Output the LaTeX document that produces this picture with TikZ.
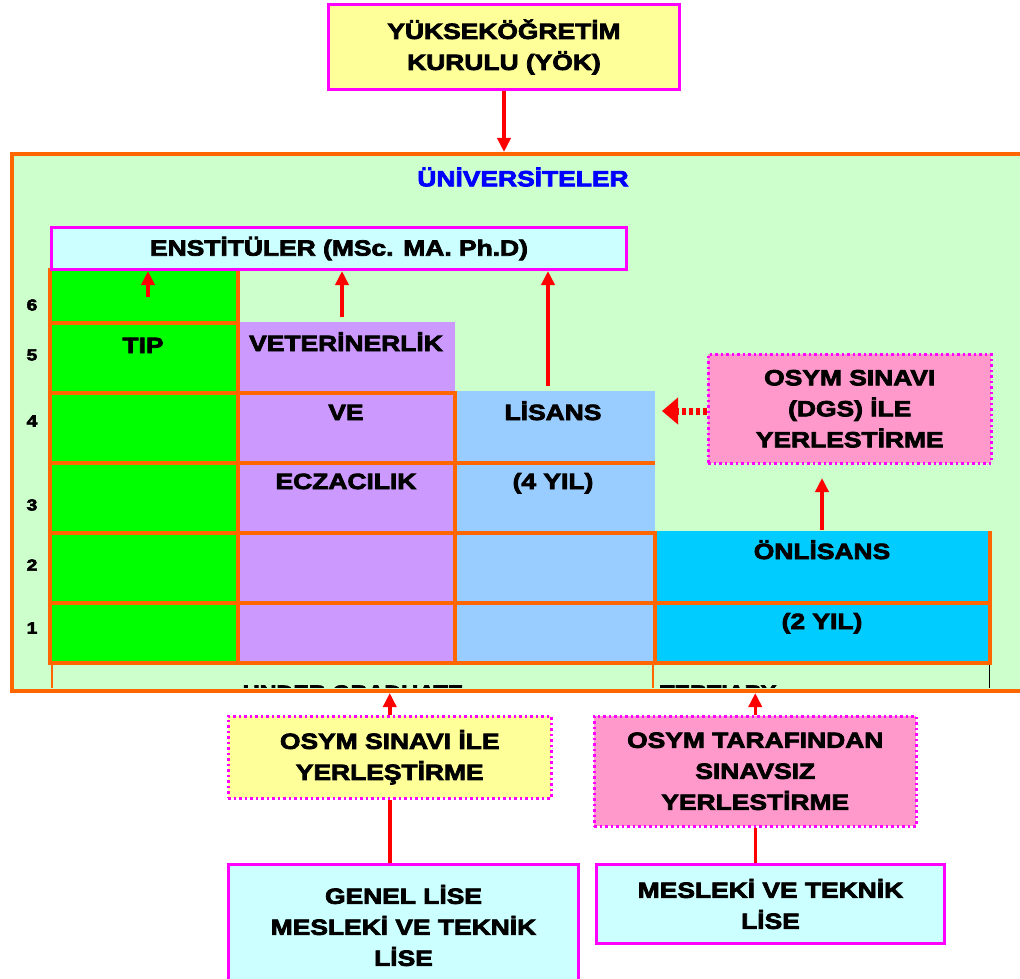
\documentclass[tikz,border=0pt]{standalone}
\usepackage{fontspec}
\setmainfont{Liberation Sans}[BoldFeatures={FakeStretch=1.2,FakeBold=3.5}]
\usetikzlibrary{positioning,arrows.meta}

\definecolor{yokyellow}{HTML}{FFFF99}
\definecolor{boxmagenta}{HTML}{FF00FF}
\definecolor{unigreen}{HTML}{CCFFCC}
\definecolor{uniblue}{HTML}{0000FF}
\definecolor{gridorange}{HTML}{FF6600}
\definecolor{arrowred}{HTML}{FF0000}
\definecolor{enstcyan}{HTML}{CCFFFF}
\definecolor{tipgreen}{HTML}{00FF00}
\definecolor{vetpurple}{HTML}{CC99FF}
\definecolor{lisblue}{HTML}{99CCFF}
\definecolor{onlcyan}{HTML}{00CCFF}
\definecolor{dgspink}{HTML}{FF99CC}

\begin{document}
\begin{tikzpicture}[x=1pt, y=-1pt,
    every node/.style={font=\bfseries\fontsize{22}{31}\selectfont, align=center, inner sep=0pt},
    magbox/.style={draw=boxmagenta, line width=3pt, anchor=north west},
    dotbox/.style={draw=boxmagenta, line width=2.5pt, dash pattern=on 2.5pt off 3pt, anchor=north west},
    redarrow/.style={draw=arrowred, line width=3.5pt, -{Triangle[length=14pt,width=13pt]}},
    redline/.style={draw=arrowred, line width=3.5pt},
    dgsarrow/.style={draw=arrowred, line width=7pt, dash pattern=on 4pt off 3pt, -{Triangle[length=16pt,width=26pt]}},
    gridline/.style={draw=gridorange, line width=4pt},
    celltext/.style={anchor=base},
    yearnum/.style={font=\bfseries\fontsize{16}{16}\selectfont},
    lowlabel/.style={font=\bfseries\fontsize{19.5}{24}\selectfont}]
\useasboundingbox (0,0) rectangle (1020,979);

% top
\node[magbox, fill=yokyellow, minimum width=351pt, minimum height=85pt] (yok) at (327,3) {YÜKSEKÖĞRETİM\\KURULU (YÖK)};

% universities
\node[draw=gridorange, line width=4pt, fill=unigreen, anchor=north west, minimum width=1040pt, minimum height=537pt] (uni) at (10,152) {};
\node[text=uniblue] (unititle) at (523,177) {ÜNİVERSİTELER};
\draw[redarrow] (yok.south) -- (yok.south |- uni.north);

% cells
\fill[tipgreen] (50,268) rectangle (238,663);
\fill[vetpurple] (238,322) rectangle (455,663);
\fill[lisblue] (455,391) rectangle (655,663);
\fill[onlcyan] (655,531) rectangle (990,663);

\begin{scope}
  \clip (10,663) rectangle (1020,687);
  \draw[gridorange, line width=2.5pt] (52,663) -- (52,700);
  \draw[gridorange, line width=2.5pt] (653,663) -- (653,700);
  \draw[black, line width=1pt] (989,663) -- (989,700);
  \node[lowlabel, anchor=base] (under) at (353,699) {UNDER GRADUATE};
  \node[lowlabel, anchor=base west] (tert) at (660,699) {TERTIARY};
\end{scope}

\draw[gridline] (50,268) -- (50,663) -- (990,663) -- (990,531);
\draw[gridline] (238,268) -- (238,663);
\draw[gridline] (50,323) -- (238,323);
\draw[gridline] (50,393) -- (455,393) -- (455,663);
\draw[gridline] (50,463) -- (655,463);
\draw[gridline] (50,533) -- (655,533) -- (655,663);
\draw[gridline] (50,603) -- (990,603);

\foreach \n/\y in {6/305,5/355,4/421,3/505,2/565,1/628}
    \node[yearnum] (yr\n) at (32,\y) {\n};

\node[celltext] (tip) at (143,353) {TIP};
\node[celltext] (vet) at (346,351) {VETERİNERLİK};
\node[celltext] (ve) at (346,420) {VE};
\node[celltext] (ecz) at (346,489) {ECZACILIK};
\node[celltext] (lis) at (553,420) {LİSANS};
\node[celltext] (lisyil) at (553,489) {(4 YIL)};
\node[celltext] (onl) at (822,559) {ÖNLİSANS};
\node[celltext] (onlyil) at (822,629) {(2 YIL)};

% institutes
\node[magbox, fill=enstcyan, minimum width=575pt, minimum height=42pt] (enst) at (50,226) {ENSTİTÜLER (MSc. MA. Ph.D)};
\coordinate (tiparr) at (148,297);
\coordinate (vetarr) at (342,317);
\coordinate (lisarr) at (548,386);
\foreach \c in {tiparr,vetarr,lisarr}
    \draw[redarrow] (\c) -- (\c |- enst.south);

% dgs
\node[dotbox, fill=dgspink, minimum width=283pt, minimum height=109pt] (dgs) at (707,353) {OSYM SINAVI\\(DGS) İLE\\YERLESTİRME};
\coordinate (lisin) at (662,411);
\draw[dgsarrow] (dgs.west |- lisin) -- (lisin);
\coordinate (onltop) at (822,530);
\coordinate (dgsin) at (822,478);
\draw[redarrow] (onltop) -- (dgsin);

% placement and high schools
\node[dotbox, fill=yokyellow, minimum width=323pt, minimum height=82pt] (osym) at (227,715) {OSYM SINAVI İLE\\YERLEŞTİRME};
\node[dotbox, fill=dgspink, minimum width=322pt, minimum height=110pt] (osymsiz) at (593,715) {OSYM TARAFINDAN\\SINAVSIZ\\YERLESTİRME};
\node[magbox, fill=enstcyan, minimum width=350pt, minimum height=122pt] (genel) at (227,863) {GENEL LİSE\\MESLEKİ VE TEKNİK\\LİSE};
\node[magbox, fill=enstcyan, minimum width=348pt, minimum height=79pt] (meslek) at (595,863) {MESLEKİ VE TEKNİK\\LİSE};
\draw[redarrow] (osym.north) -- (osym.north |- uni.south);
\draw[redarrow] (osymsiz.north) -- (osymsiz.north |- uni.south);
\draw[redline] (osym.south) -- (osym.south |- genel.north);
\draw[redline] (osymsiz.south) -- (osymsiz.south |- meslek.north);

\end{tikzpicture}
\end{document}
